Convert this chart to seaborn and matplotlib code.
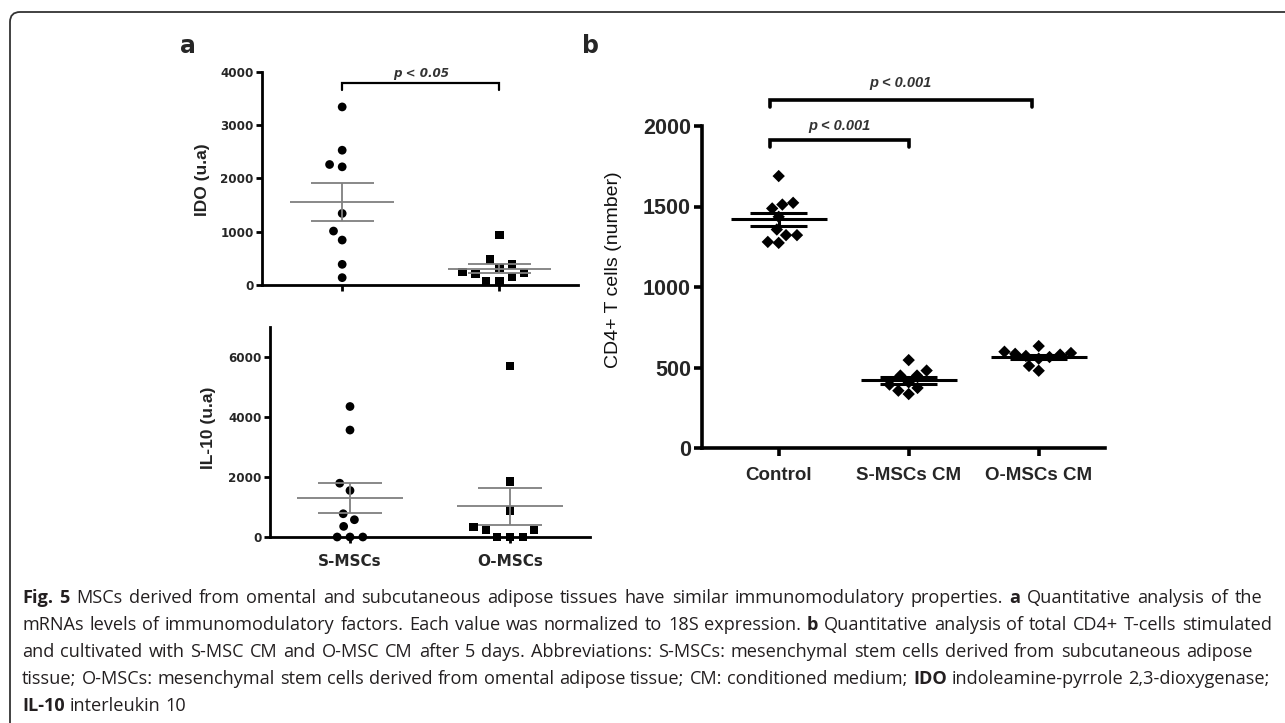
import matplotlib
matplotlib.use("Agg")
import numpy as np
import pandas as pd
import matplotlib.pyplot as plt
import seaborn as sns
from matplotlib.patches import FancyBboxPatch

# values
groups_a = ["S-MSCs", "O-MSCs"]
ido_s = [3344, 2531, 2219, 2263, 1344, 1013, 844, 388, 138]
ido_o = [938, 481, 388, 313, 250, 231, 206, 144, 63, 75]
il10_s = [4350, 3565, 1793, 1550, 775, 576, 354, 0, 0, 0]
il10_o = [5690, 1849, 886, 244, 332, 244, 0, 0, 0]

groups_b = ["Control", "S-MSCs CM", "O-MSCs CM"]
cd4_control = [1689, 1523, 1512, 1488, 1436, 1357, 1322, 1322, 1274, 1280]
cd4_s_cm = [546, 481, 450, 450, 408, 394, 373, 356, 335]
cd4_o_cm = [633, 598, 590, 585, 580, 572, 565, 555, 510, 480]

caption_lines = [
    [("Fig. 5", True), ("MSCs derived from omental and subcutaneous adipose tissues have similar immunomodulatory properties.", False),
     ("a", True), ("Quantitative analysis of the", False)],
    [("mRNAs levels of immunomodulatory factors. Each value was normalized to 18S expression.", False),
     ("b", True), ("Quantitative analysis of total CD4+ T-cells stimulated", False)],
    [("and cultivated with S-MSC CM and O-MSC CM after 5 days. Abbreviations: S-MSCs: mesenchymal stem cells derived from subcutaneous adipose", False)],
    [("tissue; O-MSCs: mesenchymal stem cells derived from omental adipose tissue; CM: conditioned medium;", False),
     ("IDO", True), ("indoleamine-pyrrole  2,3-dioxygenase;", False)],
    [("IL-10", True), ("interleukin 10", False)],
]
# right ends of the justified caption lines (None = ragged)
caption_right = [1262, 1272, 1253, 1270, None]

sns.set_style("ticks")
plt.rcParams["font.family"] = ["DejaVu Sans"]

W, H = 1285, 723
fig = plt.figure(figsize=(W / 100, H / 100), dpi=100)


def px_axes(left, top, right, bottom):
    return fig.add_axes([left / W, 1 - bottom / H, (right - left) / W, (bottom - top) / H])


def mean_sem(ax, vals, pos, half, cap, color, lw):
    v = np.array(vals, dtype=float)
    m = v.mean()
    s = v.std(ddof=1) / np.sqrt(len(v))
    ax.hlines(m, pos - half, pos + half, color=color, lw=lw, zorder=4, clip_on=False)
    ax.hlines([m - s, m + s], pos - cap, pos + cap, color=color, lw=lw, zorder=4, clip_on=False)
    ax.vlines(pos, m - s, m + s, color=color, lw=lw, zorder=4, clip_on=False)


def style_axis(ax, lw, ticklen, labsize, fam, weight):
    sns.despine(ax=ax)
    for sp in ["left", "bottom"]:
        ax.spines[sp].set_linewidth(lw)
        ax.spines[sp].set_color("black")
    ax.tick_params(axis="both", width=lw, length=ticklen, color="black", pad=2)
    for lab in ax.get_yticklabels():
        lab.set_fontsize(labsize)
        lab.set_fontweight(weight)
        lab.set_family(fam)
    ax.set_xlabel("")
    ax.set_ylabel("")


def bracket(ax, x0, x1, y, drop, text, ty, size, fam, lw):
    ax.plot([x0, x0, x1, x1], [y - drop, y, y, y - drop], color="black", lw=lw, clip_on=False,
            solid_joinstyle="miter")
    ax.text((x0 + x1) / 2, ty, text, ha="center", va="center", fontsize=size, fontweight="bold",
            style="italic", color="#333333", family=fam, clip_on=False)


def swarm(ax, df, order, marker, size, gap):
    # gap: invisible edge width, widens the spacing of the swarm like the original
    sns.swarmplot(data=df, x="group", y="val", order=order,
                  marker=marker, color="black", size=size, linewidth=gap, edgecolor="none",
                  ax=ax, warn_thresh=1)


# ---- panel a, IDO
df_ido = pd.DataFrame({"group": ["S-MSCs"] * len(ido_s) + ["O-MSCs"] * len(ido_o),
                       "val": ido_s + ido_o})
ax1 = px_axes(262, 72, 578, 285)
swarm(ax1, df_ido[df_ido.group == "S-MSCs"], groups_a, "o", 6.3, 2.5)
swarm(ax1, df_ido[df_ido.group == "O-MSCs"], groups_a, "s", 6.0, 3.0)
mean_sem(ax1, ido_s, 0, 0.33, 0.2, "#7f7f7f", 1.3)
mean_sem(ax1, ido_o, 1, 0.33, 0.2, "#7f7f7f", 1.3)
ax1.set_xlim(-0.51, 1.5)
ax1.set_ylim(0, 4000)
ax1.set_yticks([0, 1000, 2000, 3000, 4000])
ax1.set_xticks([0, 1])
ax1.set_xticklabels([])
style_axis(ax1, 2.0, 4, 8.6, "DejaVu Sans", "bold")
bracket(ax1, 0, 1, 3790, 130, "p < 0.05", 3970, 8.6, "DejaVu Sans", 1.6)

# ---- panel a, IL-10
df_il = pd.DataFrame({"group": ["S-MSCs"] * len(il10_s) + ["O-MSCs"] * len(il10_o),
                      "val": il10_s + il10_o})
ax2 = px_axes(270, 327, 590, 537)
swarm(ax2, df_il[df_il.group == "S-MSCs"], groups_a, "o", 6.3, 2.5)
swarm(ax2, df_il[df_il.group == "O-MSCs"], groups_a, "s", 6.0, 3.0)
mean_sem(ax2, il10_s, 0, 0.33, 0.2, "#7f7f7f", 1.3)
mean_sem(ax2, il10_o, 1, 0.33, 0.2, "#7f7f7f", 1.3)
ax2.set_xlim(-0.5, 1.5)
ax2.set_ylim(0, 7000)
ax2.set_yticks([0, 2000, 4000, 6000])
ax2.set_xticks([0, 1])
ax2.set_xticklabels(groups_a, fontsize=11, fontweight="bold")
style_axis(ax2, 2.0, 4, 8.6, "DejaVu Sans", "bold")
ax2.tick_params(axis="x", pad=8)

# ---- panel b, CD4+ T cells
df_b = pd.DataFrame({"group": ["Control"] * len(cd4_control) + ["S-MSCs CM"] * len(cd4_s_cm)
                     + ["O-MSCs CM"] * len(cd4_o_cm),
                     "val": cd4_control + cd4_s_cm + cd4_o_cm})
ax3 = px_axes(702, 126, 1105, 448)
swarm(ax3, df_b, groups_b, "D", 6.3, 1.2)
for i, vals in enumerate([cd4_control, cd4_s_cm, cd4_o_cm]):
    mean_sem(ax3, vals, i, 0.37, 0.22, "black", 2.2)
ax3.set_xlim(-0.59, 2.51)
ax3.set_ylim(0, 2000)
ax3.set_yticks([0, 500, 1000, 1500, 2000])
ax3.set_xticks([0, 1, 2])
ax3.set_xticklabels(groups_b, fontsize=13.5, fontweight="bold", family="Liberation Sans")
style_axis(ax3, 2.6, 6, 15.5, "Liberation Sans", "bold")
ax3.tick_params(axis="x", pad=8)
bracket(ax3, -0.07, 1.0, 1913, 45, "p < 0.001", 2000, 10.5, "Liberation Sans", 2.6)
bracket(ax3, -0.07, 1.95, 2162, 45, "p < 0.001", 2265, 10.5, "Liberation Sans", 2.6)

# the markers at 0 sit on the axis line: show them in full
for ax in (ax1, ax2):
    for coll in ax.collections:
        if len(coll.get_offsets()):
            coll.set_clip_on(False)

# axis titles and panel letters
fig.text(203 / W, 1 - 180 / H, "IDO (u.a)", rotation=90, ha="center", va="center",
         fontsize=12.5, family="Liberation Sans", fontweight="bold", color="#222222")
fig.text(209 / W, 1 - 428 / H, "IL-10 (u.a)", rotation=90, ha="center", va="center",
         fontsize=12.5, family="Liberation Sans", fontweight="bold", color="#222222")
fig.text(614 / W, 1 - 270 / H, "CD4+ T cells (number)", rotation=90, ha="center", va="center",
         fontsize=14, family="Liberation Sans", color="#111111")
fig.text(188 / W, 1 - 46 / H, "a", ha="center", va="center", fontsize=17, fontweight="bold")
fig.text(590 / W, 1 - 46 / H, "b", ha="center", va="center", fontsize=17, fontweight="bold")

# frame round the figure, in inches so the corner is round; right and bottom sides lie outside
frame = FancyBboxPatch((0.10, -0.6), 13.4, H / 100 - 0.12 + 0.6,
                       boxstyle="round,pad=0,rounding_size=0.1", transform=fig.dpi_scale_trans,
                       fill=False, lw=1.3, edgecolor="#333333")
fig.patches.append(frame)

# caption: words placed one by one, lines justified to the original's right edges
renderer = fig.canvas.get_renderer()


def text_w(s, size, bold=False):
    t = fig.text(-5, -5, s, fontsize=size, family="Open Sans", fontweight="bold" if bold else "normal")
    w = t.get_window_extent(renderer).width
    t.remove()
    return w


cap_x = 22.0
words = [[(w, b) for s, b in parts for w in s.split(" ") if w] for parts in caption_lines]

base = 11.0
space_base = text_w("x x", base) - text_w("xx", base)
ratios = []
for ws, right in zip(words, caption_right):
    if right is None:
        continue
    nat = sum(text_w(w, base, b) for w, b in ws) + space_base * (len(ws) - 1)
    ratios.append((right - cap_x) / nat)
cap_size = base * min(ratios)
space_w = text_w("x x", cap_size) - text_w("xx", cap_size)

line_y = [603, 630, 657, 684, 711]
for ws, right, py in zip(words, caption_right, line_y):
    widths = [text_w(w, cap_size, b) for w, b in ws]
    gap = space_w if right is None else (right - cap_x - sum(widths)) / (len(ws) - 1)
    x = cap_x
    for (w, b), wd in zip(ws, widths):
        fig.text(x / W, 1 - py / H, w, fontsize=cap_size, family="Open Sans",
                 fontweight="bold" if b else "normal", va="baseline", color="#231f20")
        x += wd + gap

fig.savefig("out.png", dpi=100)
